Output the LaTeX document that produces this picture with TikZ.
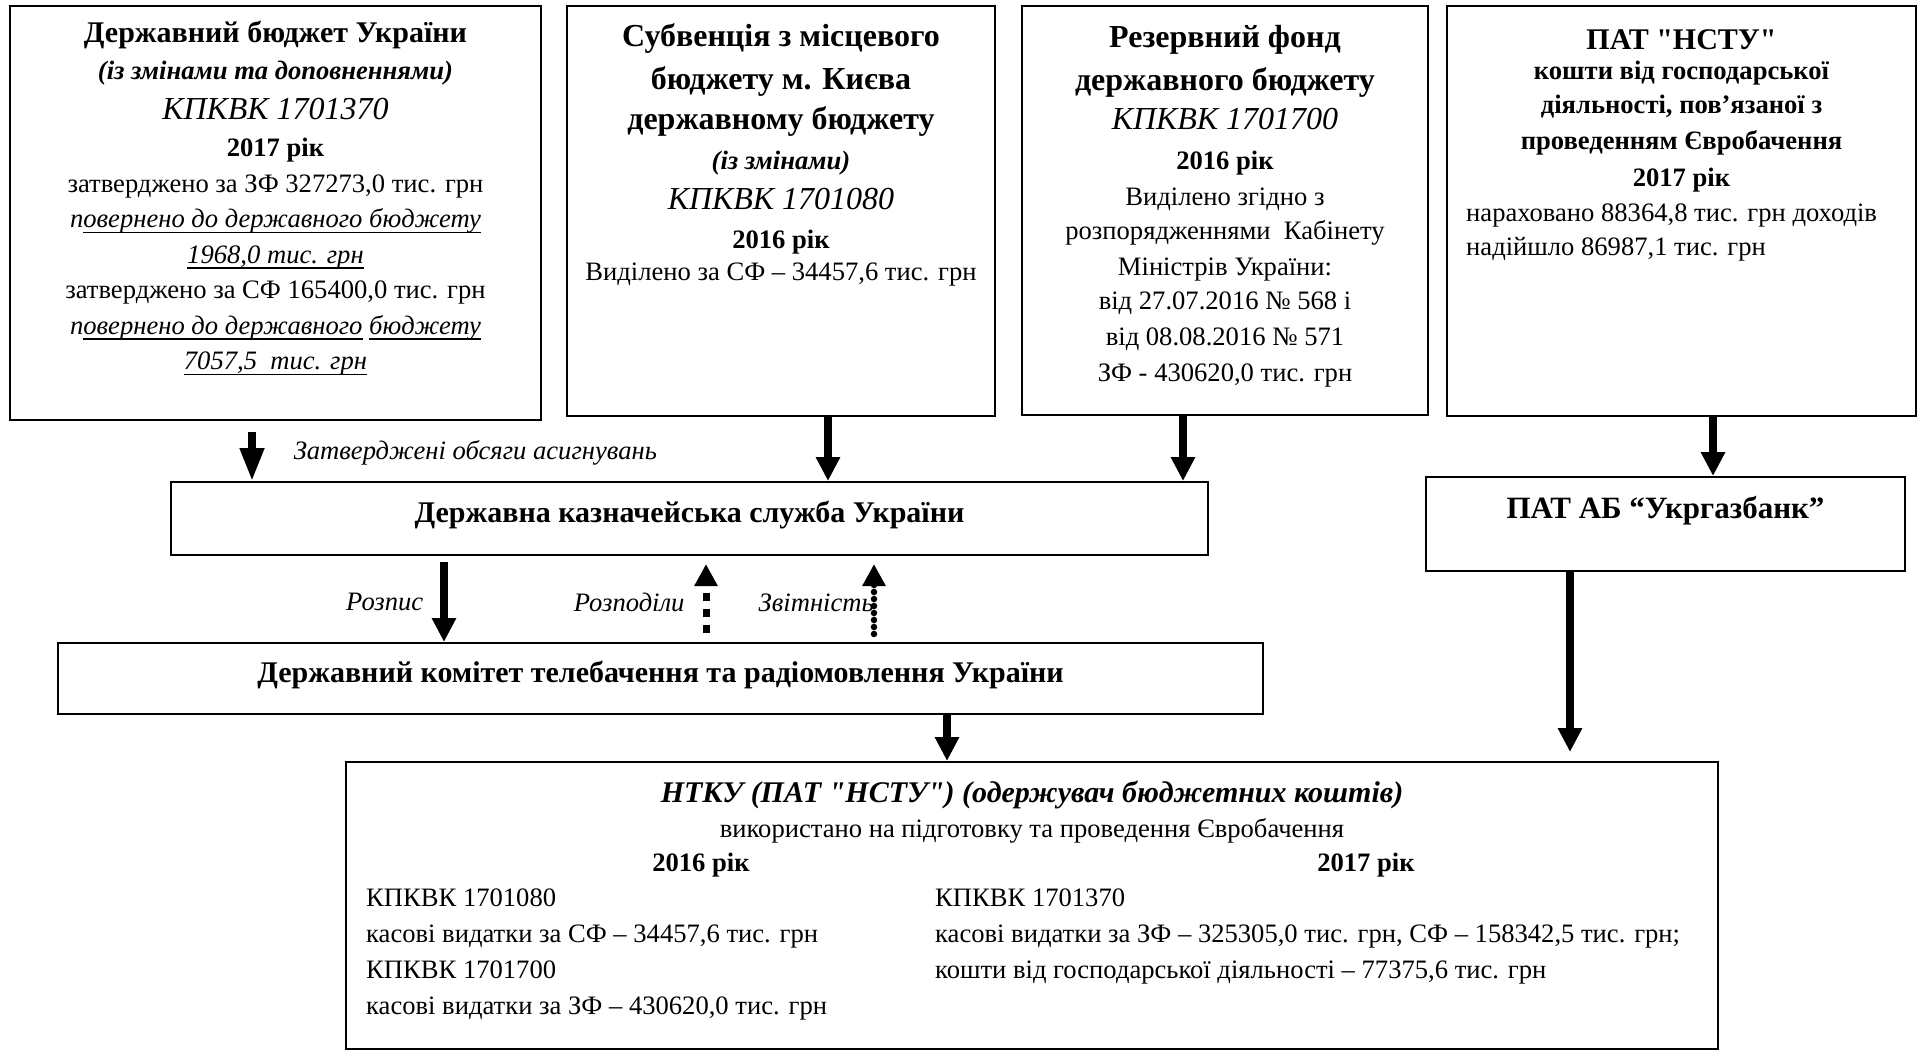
\documentclass[tikz,border=0pt]{standalone}
\usepackage{fontspec}
\setmainfont{Liberation Serif}[Ligatures=TeXOff]
\usetikzlibrary{positioning,arrows.meta}

\newcommand{\headfont}{\fontsize{30}{36}\selectfont\bfseries}
\newcommand{\bigheadfont}{\fontsize{32}{36}\selectfont\bfseries}
\newcommand{\bodyfont}{\fontsize{26.6}{35.5}\selectfont}
\newcommand{\codefont}{\fontsize{32}{36}\selectfont\itshape}
\newsavebox{\undlbox}
\newcommand{\undl}[1]{\sbox{\undlbox}{#1}\rlap{\rule[-5.5pt]{\wd\undlbox}{1.6pt}}\usebox{\undlbox}}
\setlength{\tabcolsep}{0pt}

\begin{document}
\begin{tikzpicture}[x=1pt,y=-1pt,
	box/.style={rectangle, draw=black, line width=2pt, inner sep=0pt},
	bar/.style={box, font=\headfont, text height=22pt, text depth=14pt},
	txt/.style={inner sep=0pt, font=\bodyfont, anchor=base},
	arrlabel/.style={inner sep=0pt, font=\bodyfont\itshape},
	arr/.style={-{Triangle[length=24pt,width=23pt]}, line width=7.5pt},
	dashedarr/.style={-{Triangle[length=22pt,width=22pt]}, line width=7pt, dash pattern=on 8pt off 8pt},
	dottedarr/.style={-{Triangle[length=22pt,width=22pt]}, line width=6.5pt, line cap=round, dash pattern=on 0pt off 7pt}]

	\useasboundingbox (0,0) rectangle (1921,1051);

	%Nodes
	\node[box, minimum width=531pt, minimum height=414pt]	(db)	at (275.5,213) {};
	\node[box, minimum width=428pt, minimum height=410pt]	(sub)	at (781,211) {};
	\node[box, minimum width=406pt, minimum height=409pt]	(rf)	at (1225,210.5) {};
	\node[box, minimum width=469pt, minimum height=410pt]	(nstu)	at (1681.5,211) {};
	\node[bar, minimum width=1037pt, minimum height=73pt]	(dks)	at (689.5,518.5) {Державна казначейська служба України};
	\node[box, minimum width=479pt, minimum height=94pt]	(ugb)	at (1665.5,524) {};
	\node[bar, minimum width=1205pt, minimum height=71pt]	(kom)	at (660.5,678.5) {Державний комітет телебачення та радіомовлення України};
	\node[box, minimum width=1372pt, minimum height=287pt]	(ntku)	at (1032,905.5) {};

	%Texts
	\node[txt]	(dbt)	at (275.5,43) {\begin{tabular}[t]{c}
		{\headfont Державний бюджет України}\\[1.5pt]
		{\bfseries\itshape (із змінами та доповненнями)}\\[4.5pt]
		{\codefont КПКВК 1701370}\\[1.5pt]
		{\bfseries 2017 рік}\\
		затверджено за ЗФ 327273,0 тис. грн\\
		{\itshape п\undl{овернено до державного бюджету}}\\
		{\itshape \undl{1968,0 тис. грн}}\\
		затверджено за СФ 165400,0 тис. грн\\
		{\itshape п\undl{овернено до державного} \undl{бюджету}}\\
		{\itshape \undl{7057,5\ \ тис. грн}}
	\end{tabular}};
	\node[txt]	(subt)	at (781,47) {\begin{tabular}[t]{c}
		{\bigheadfont Субвенція з місцевого}\\[7.5pt]
		{\bigheadfont бюджету м. Києва}\\[4.5pt]
		{\bigheadfont державному бюджету}\\[4pt]
		{\bfseries\itshape (із змінами)}\\[5pt]
		{\codefont КПКВК 1701080}\\[3pt]
		{\bfseries 2016 рік}\\[-3pt]
		Виділено за СФ – 34457,6 тис. грн
	\end{tabular}};
	\node[txt]	(rft)	at (1225,47.5) {\begin{tabular}[t]{c}
		{\bigheadfont Резервний фонд}\\[7.5pt]
		{\bigheadfont державного бюджету}\\[4pt]
		{\codefont КПКВК 1701700}\\[4.5pt]
		{\bfseries 2016 рік}\\[0.5pt]
		Виділено згідно з\\[-1.5pt]
		розпорядженнями\ \ Кабінету\\[0.5pt]
		Міністрів України:\\[-1.5pt]
		від 27.07.2016 № 568 і\\[0.5pt]
		від 08.08.2016 № 571\\[0.5pt]
		ЗФ - 430620,0 тис. грн
	\end{tabular}};
	\node[txt]	(nstut)	at (1681.5,49.5) {\begin{tabular}[t]{c}
		{\headfont ПАТ "НСТУ"}\\[-5pt]
		{\bfseries кошти від господарської}\\[-1.5pt]
		{\bfseries діяльності, пов’язаної з}\\
		{\bfseries проведенням Євробачення}\\[1.5pt]
		{\bfseries 2017 рік}
	\end{tabular}};
	\node[txt, anchor=base west]	(nstud)	at (1466,221.5) {\begin{tabular}[t]{l}
		нараховано 88364,8 тис. грн доходів\\[-1.5pt]
		надійшло 86987,1 тис. грн
	\end{tabular}};
	\node[txt, font=\fontsize{31}{36}\selectfont\bfseries]	(ugbt)	at (1665.5,518) {ПАТ АБ “Укргазбанк”};
	\node[txt, font=\headfont\itshape]	(ntkut)	at (1032,802) {НТКУ (ПАТ "НСТУ") (одержувач бюджетних коштів)};
	\node[txt]	(ntkus)	at (1032,837) {використано на підготовку та проведення Євробачення};
	\node[txt, font=\bodyfont\bfseries]	(y16)	at (701,871) {2016 рік};
	\node[txt, font=\bodyfont\bfseries]	(y17)	at (1366,871) {2017 рік};
	\node[txt, anchor=base west]	(c16)	at (366,906) {\begin{tabular}[t]{l}
		КПКВК 1701080\\[0.5pt]
		касові видатки за СФ – 34457,6 тис. грн\\[0.5pt]
		КПКВК 1701700\\[0.5pt]
		касові видатки за ЗФ – 430620,0 тис. грн
	\end{tabular}};
	\node[txt, anchor=base west]	(c17)	at (935,906) {\begin{tabular}[t]{l}
		КПКВК 1701370\\[0.5pt]
		касові видатки за ЗФ – 325305,0 тис. грн, СФ – 158342,5 тис. грн;\\[0.5pt]
		кошти від господарської діяльності – 77375,6 тис. грн
	\end{tabular}};

	%Lines
	\coordinate (a1) at (252,432);
	\coordinate (a2) at (828,0);
	\coordinate (a3) at (1183,0);
	\coordinate (a4) at (1713,0);
	\coordinate (a5) at (444,562);
	\coordinate (a6) at (706,633);
	\coordinate (a7) at (874,634);
	\coordinate (a8) at (947,0);
	\coordinate (a9) at (1570,0);
	\draw[arr, -{Triangle[length=33pt,width=23pt]}] (a1) -- node[arrlabel, right=38pt, pos=0.42] (lzat) {Затверджені обсяги асигнувань} (a1 |- dks.north);
	\draw[arr] (sub.south -| a2) -- (dks.north -| a2);
	\draw[arr] (rf.south -| a3) -- (dks.north -| a3);
	\draw[arr] (nstu.south -| a4) -- (ugb.north -| a4);
	\draw[arr] (a5) -- node[arrlabel, left=17pt] (lroz) {Розпис} (a5 |- kom.north);
	\draw[dashedarr, shorten >=8pt] (a6) -- node[arrlabel, left=18pt, pos=0.4] (lrpd) {Розподіли} (a6 |- dks.south);
	\draw[dottedarr, shorten >=8pt] (a7) -- node[arrlabel, left=-3pt, pos=0.4] (lzvt) {Звітність} (a7 |- dks.south);
	\draw[arr] (kom.south -| a8) -- (ntku.north -| a8);
	\draw[arr, shorten >=9pt] (ugb.south -| a9) -- (ntku.north -| a9);
\end{tikzpicture}
\end{document}
